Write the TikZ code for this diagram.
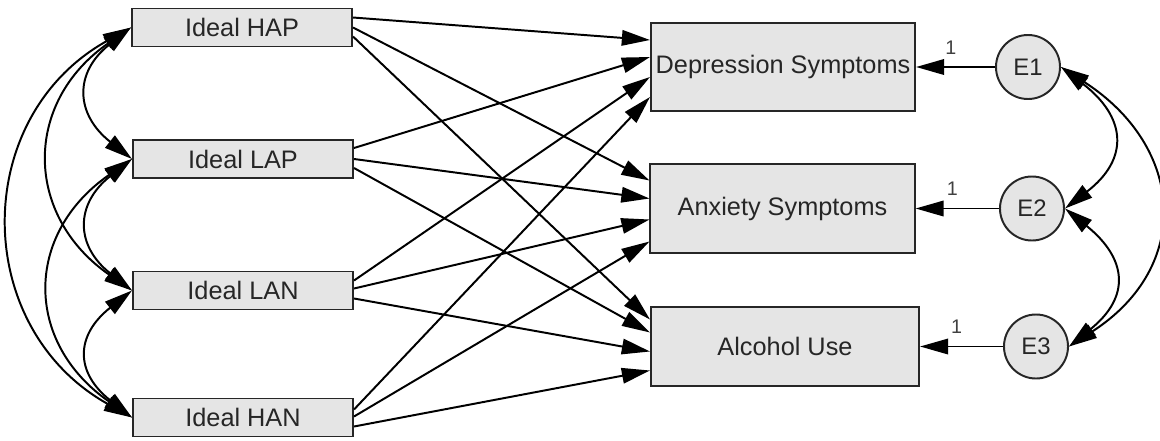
\documentclass[tikz,border=0pt]{standalone}
\usepackage{fontspec}
\setmainfont{Liberation Sans}
\usetikzlibrary{arrows.meta,calc}

\begin{document}
\begin{tikzpicture}[x=0.025cm, y=-0.025cm, line width=1.4pt,
		box_style/.style={rectangle,draw=black!85,fill=black!10,inner sep=0pt,text=black!85,font=\fontsize{18}{21}\selectfont},
		err_style/.style={circle,draw=black!85,fill=black!10,inner sep=0pt,minimum size=1.6cm,text=black!85,font=\fontsize{17}{20}\selectfont},
		path_style/.style={draw=black,-{Triangle[length=20pt,width=11pt]}},
		cov_style/.style={draw=black,{Triangle[length=20pt,width=11pt]}-{Triangle[length=20pt,width=11pt]}},
		one_style/.style={font=\fontsize{14}{16}\selectfont,text=black!75,above=5pt}]

		\useasboundingbox (0,0) rectangle (1160,441);

		\node[box_style,minimum width=5.5cm,minimum height=0.95cm] (hap) at (242,27.5) {Ideal HAP};
		\node[box_style,minimum width=5.5cm,minimum height=0.95cm] (lap) at (243,159) {Ideal LAP};
		\node[box_style,minimum width=5.5cm,minimum height=0.95cm] (lan) at (243,290.5) {Ideal LAN};
		\node[box_style,minimum width=5.5cm,minimum height=0.95cm] (han) at (243,417.5) {Ideal HAN};

		\node[box_style,minimum width=6.6cm,minimum height=2.2cm] (dep) at (783,67) {Depression Symptoms};
		\node[box_style,minimum width=6.6cm,minimum height=2.22cm] (anx) at (782.5,208.5) {Anxiety Symptoms};
		\node[box_style,minimum width=6.7cm,minimum height=1.97cm] (alc) at (785,346.5) {Alcohol Use};

		\node[err_style] (e1) at (1028,67) {E1};
		\node[err_style] (e2) at (1032,208.5) {E2};
		\node[err_style] (e3) at (1036,346.5) {E3};

		\draw[path_style] ($(hap.east)+(0,-10)$) -- ($(dep.west)+(0,-27)$);
		\draw[path_style] ($(hap.east)+(0,0)$) -- ($(anx.west)+(0,-28)$);
		\draw[path_style] ($(hap.east)+(0,9)$) -- ($(alc.west)+(0,-27)$);
		\draw[path_style] ($(lap.east)+(0,-11)$) -- ($(dep.west)+(0,-10)$);
		\draw[path_style] ($(lap.east)+(0,0)$) -- ($(anx.west)+(0,-10)$);
		\draw[path_style] ($(lap.east)+(0,9)$) -- ($(alc.west)+(0,-14)$);
		\draw[path_style] ($(lan.east)+(0,-10)$) -- ($(dep.west)+(0,10)$);
		\draw[path_style] ($(lan.east)+(0,-2)$) -- ($(anx.west)+(0,11)$);
		\draw[path_style] ($(lan.east)+(0,8)$) -- ($(alc.west)+(0,5)$);
		\draw[path_style] ($(han.east)+(0,-8)$) -- ($(dep.west)+(0,30)$);
		\draw[path_style] ($(han.east)+(0,-1)$) -- ($(anx.west)+(0,33)$);
		\draw[path_style] ($(han.east)+(0,9)$) -- ($(alc.west)+(0,24)$);

		\draw[path_style] (e1) -- node[one_style,pos=0.56]{1} (dep);
		\draw[path_style] (e2) -- node[one_style,pos=0.56]{1} (anx);
		\draw[path_style] (e3) -- node[one_style,pos=0.56]{1} (alc);

		\draw[cov_style] (hap.west) .. controls +(-57,45) and +(-57,-45) .. (lap.west);
		\draw[cov_style] (lap.west) .. controls +(-57,45) and +(-57,-45) .. (lan.west);
		\draw[cov_style] (lan.west) .. controls +(-57,45) and +(-57,-45) .. (han.west);
		\draw[cov_style] (hap.west) .. controls +(-108,75) and +(-108,-75) .. (lan.west);
		\draw[cov_style] (lap.west) .. controls +(-108,75) and +(-108,-75) .. (han.west);
		\draw[cov_style] (hap.west) .. controls +(-161,90) and +(-161,-90) .. (han.west);

		\draw[cov_style] (e1.east) .. controls +(65,50) and +(65,-50) .. (e2.east);
		\draw[cov_style] (e2.east) .. controls +(62,50) and +(62,-50) .. (e3.east);
		\draw[cov_style] (e1.east) .. controls +(124,80) and +(124,-80) .. (e3.east);
\end{tikzpicture}
\end{document}
